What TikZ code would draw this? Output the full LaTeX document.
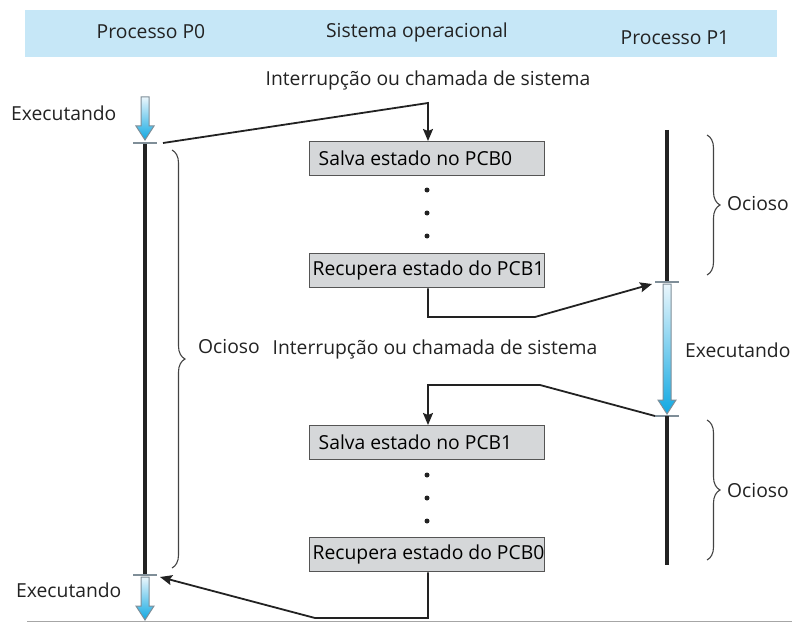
\documentclass[tikz,border=0pt]{standalone}
\usepackage{fontspec}
\setmainfont{Open Sans}
\usetikzlibrary{arrows.meta,decorations.pathreplacing,calc}
\definecolor{headblue}{HTML}{C6E7F7}
\definecolor{boxgray}{HTML}{D5D7D9}
\definecolor{boxedge}{HTML}{555555}
\definecolor{runtop}{HTML}{EAF6FC}
\definecolor{runbot}{HTML}{10A8E2}
\definecolor{runedge}{HTML}{7F8E98}
\definecolor{ink}{HTML}{222222}
\tikzset{
  label/.style={inner sep=0pt, text=ink},
  pcb/.style={draw=boxedge, line width=1.4pt, fill=boxgray, minimum width=235pt,
    minimum height=34pt, inner sep=0pt, anchor=north west, text=black},
  conn/.style={draw=ink, line width=1.8pt, -{Stealth[length=12pt,width=10pt,inset=2pt]}},
  timeline/.style={line width=4pt, draw=ink},
  tick/.style={line width=1.2pt, draw=runedge},
  idle/.style={draw=ink!85, line width=1.1pt,
    decorate, decoration={brace, amplitude=13pt}},
  dot/.style={circle, fill=ink, inner sep=0pt, minimum size=5pt},
}
% downward "running" arrow between two vertical positions
\newcommand{\runarrow}[3]{%
  \shade[top color=runtop, bottom color=runbot, draw=runedge, line width=1pt]
    (#1-4,#2) -- (#1+4,#2) -- (#1+4,#3-14) -- (#1+9,#3-14) -- (#1,#3)
    -- (#1-9,#3-14) -- (#1-4,#3-14) -- cycle;}
\begin{document}
\begin{tikzpicture}[x=1pt, y=-1pt, font=\fontsize{19.3}{22}\selectfont]
\useasboundingbox (0,0) rectangle (792,623);

% header band
\fill[headblue] (25,10) rectangle (777,57);
\node[label] (hp0) at (151,32) {Processo P0};
\node[label] (hso) at (417,32) {Sistema operacional};
\node[label] (hp1) at (675,38) {Processo P1};

% process P0 timeline
\runarrow{145}{97}{140}
\draw[timeline] (145,143) -- (145,575);
\coordinate (p0a) at (145,143);
\coordinate (p0b) at (145,575);
\draw[tick] (133,143) -- (157,143);
\draw[tick] (133,575) -- (157,575);
\runarrow{145}{577}{620}
\node[label, anchor=west] (run0a) at (11,113) {Executando};
\node[label, anchor=west] (run0b) at (16,590) {Executando};
\draw[idle] (172,150) -- (172,568);
\node[label, anchor=west] (idle0) at (198,347) {Ocioso};

% process P1 timeline
\draw[timeline] (667,130) -- (667,282);
\coordinate (p1a) at (667,282);
\draw[tick] (655,282) -- (679,282);
\runarrow{667}{284}{414}
\coordinate (p1b) at (667,416);
\draw[tick] (655,416) -- (679,416);
\draw[timeline] (667,416) -- (667,565);
\node[label, anchor=west] (run1) at (685,350) {Executando};
\draw[idle] (707,135) -- (707,275);
\node[label, anchor=west] (idle1a) at (727,204) {Ocioso};
\draw[idle] (707,420) -- (707,560);
\node[label, anchor=west] (idle1b) at (727,491) {Ocioso};

% operating system boxes
\node[pcb] (s0) at (309,141) {\hspace{8pt}\makebox[225pt][l]{Salva estado no PCB0}};
\node[dot] (d1) at (427,190) {};
\node[dot] (d2) at (427,213) {};
\node[dot] (d3) at (427,236) {};
\node[pcb] (r1) at (309,253) {\hspace{2pt}\makebox[231pt][l]{Recupera estado do PCB1}};

\node[pcb] (s1) at (309,425) {\hspace{8pt}\makebox[225pt][l]{Salva estado no PCB1}};
\node[dot] (d4) at (427,475) {};
\node[dot] (d5) at (427,498) {};
\node[dot] (d6) at (427,521) {};
\node[pcb] (r0) at (309,537) {\hspace{2pt}\makebox[231pt][l]{Recupera estado do PCB0}};

\node[label] (int0) at (428,80) {Interrupção ou chamada de sistema};
\node[label] (int1) at (435,349) {Interrupção ou chamada de sistema};

% control transfers
\coordinate (p0out) at (163,143);
\coordinate (k1) at (428,103);
\draw[conn] (p0out) -- (k1) -- (k1 |- s0.north);

\coordinate (k2) at (428,317);
\coordinate (k3) at (535,317);
\coordinate (p1in) at (652,284);
\draw[conn] (k2 |- r1.south) -- (k2) -- (k3) -- (p1in);

\coordinate (p1out) at (655,416);
\coordinate (k4) at (540,385);
\coordinate (k5) at (428,385);
\draw[conn] (p1out) -- (k4) -- (k5) -- (k5 |- s1.north);

\coordinate (k6) at (428,618);
\coordinate (k7) at (315,618);
\coordinate (p0in) at (160,577);
\draw[conn] (k6 |- r0.south) -- (k6) -- (k7) -- (p0in);

% base rule
\draw[draw=gray!70, line width=1pt] (27,621.5) -- (792,621.5);
\end{tikzpicture}
\end{document}
